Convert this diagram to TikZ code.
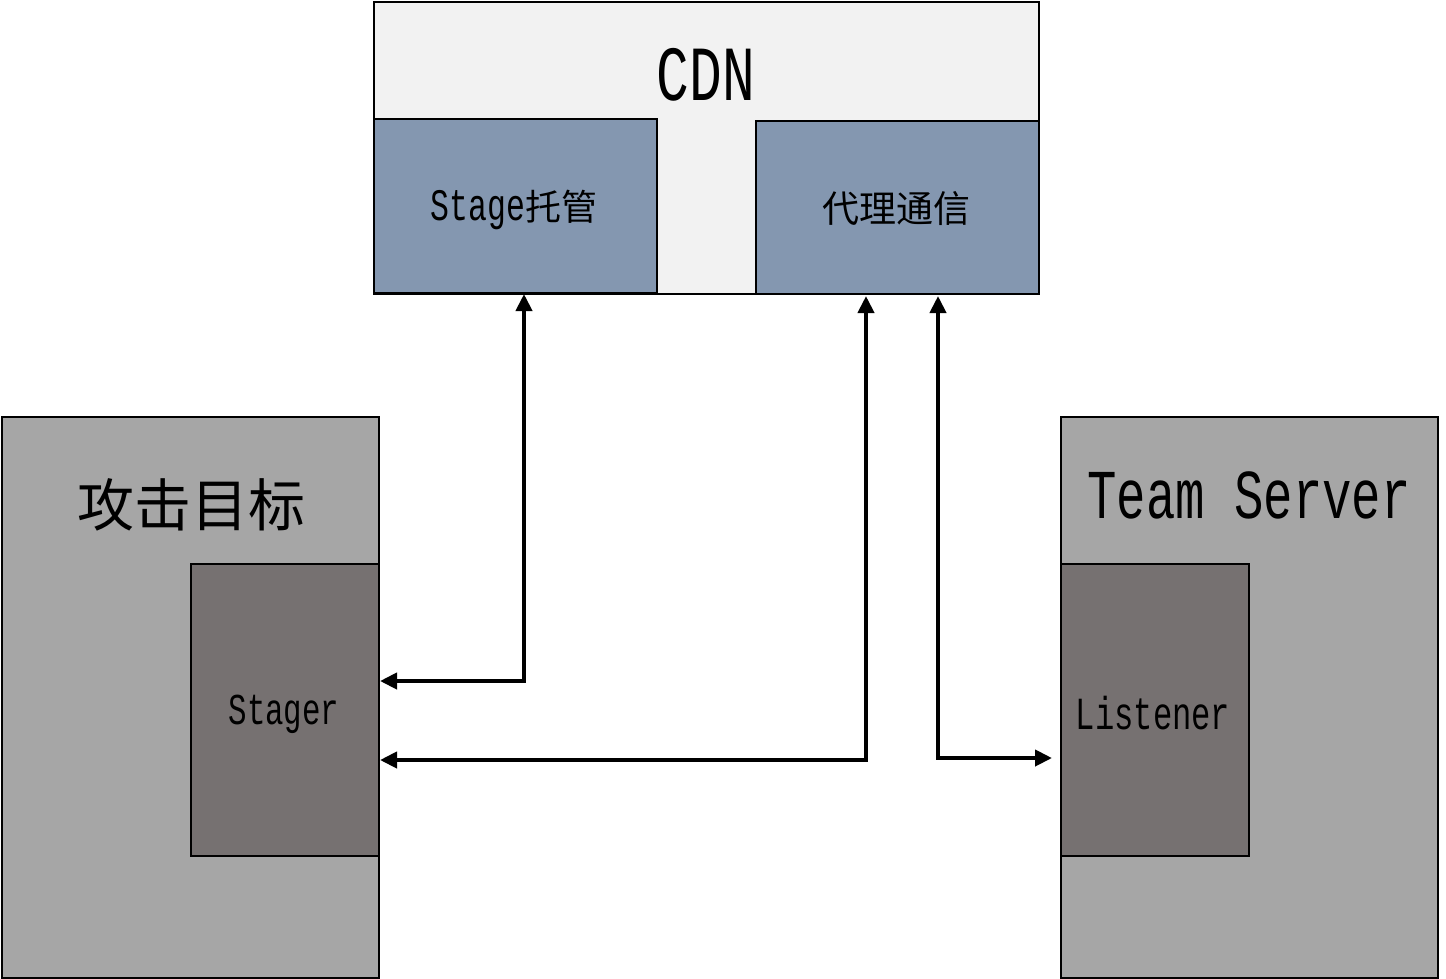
\documentclass[tikz,border=0pt]{standalone}
\usepackage{fontspec}
\newfontfamily\cjk{Noto Sans CJK SC}
\newfontfamily\lat{Liberation Mono}
\usetikzlibrary{arrows.meta,calc}
\newcommand{\lt}[2]{\scalebox{0.7}[1]{\fontsize{#1}{#1}\lat #2}}
\begin{document}
\begin{tikzpicture}[x=1pt,y=-1pt,
  box/.style={draw=black,line width=2pt,inner sep=0pt,anchor=north west},
  txt/.style={inner sep=0pt,text=black},
  arr/.style={line width=4pt,{Triangle[length=17pt,width=16pt]}-{Triangle[length=17pt,width=16pt]}}]
\useasboundingbox[fill=white] (0,0) rectangle (1446,978);
% CDN
\node[box,fill={rgb,255:red,242;green,242;blue,242},minimum width=665pt,minimum height=292pt] (cdn) at (373,1) {};
\node[box,fill={rgb,255:red,132;green,151;blue,176},minimum width=283pt,minimum height=174pt] (stagebox) at (373,118) {};
\node[box,fill={rgb,255:red,132;green,151;blue,176},minimum width=283pt,minimum height=173pt] (proxy) at (755,120) {};
\node[txt] (cdnt) at (706,75) {\lt{78}{CDN}};
\node[txt] (stt) at (514,210) {\lt{45}{Stage}{\fontsize{36}{36}\cjk 托管}};
\node[txt] (pxt) at (896,208) {\fontsize{37}{37}\cjk 代理通信};
% target
\node[box,fill={rgb,255:red,166;green,166;blue,166},minimum width=377pt,minimum height=561pt] (target) at (1,416) {};
\node[box,fill={rgb,255:red,118;green,113;blue,113},minimum width=188pt,minimum height=292pt] (stager) at (190,563) {};
\node[txt] (tgt) at (191,505) {\fontsize{57}{57}\cjk 攻击目标};
\node[txt] (sgt) at (284,714) {\lt{44}{Stager}};
% team server
\node[box,fill={rgb,255:red,166;green,166;blue,166},minimum width=377pt,minimum height=561pt] (ts) at (1060,416) {};
\node[box,fill={rgb,255:red,118;green,113;blue,113},minimum width=188pt,minimum height=292pt] (listener) at (1060,563) {};
\node[txt] (tst) at (1249,495) {\lt{70}{Team Server}};
\node[txt] (lst) at (1153,713) {\lt{46}{Listener}};
% connectors
\coordinate (c1) at (524,681);
\coordinate (c2) at (866,760);
\coordinate (c3) at (938,758);
\coordinate (p2) at (866,296);
\coordinate (p3) at (938,296);
\coordinate (e3) at (1052,758);
\draw[arr] (stagebox.south -| c1) -- (c1) -- (stager.east |- c1);
\draw[arr] (p2) -- (c2) -- (stager.east |- c2);
\draw[arr] (p3) -- (c3) -- (e3);
\end{tikzpicture}
\end{document}
